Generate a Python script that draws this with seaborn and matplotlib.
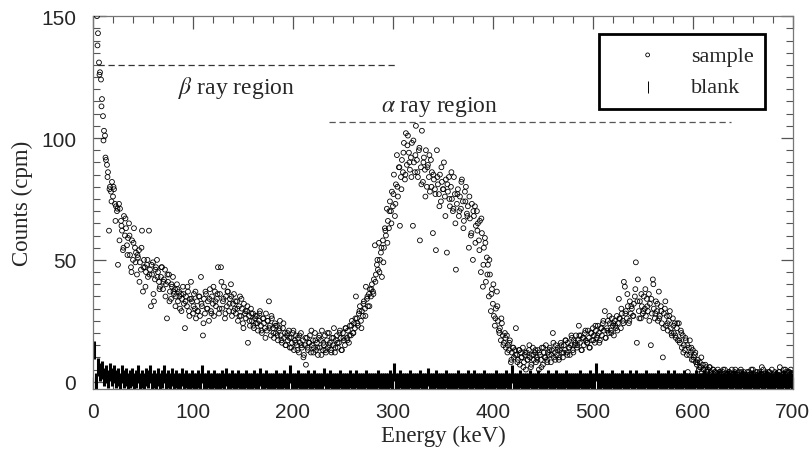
import numpy as np
import matplotlib
matplotlib.use("Agg")
import matplotlib.pyplot as plt
from matplotlib.ticker import MultipleLocator
import seaborn as sns

# counts per minute, one value per keV starting at 4 keV
sample_counts = [
    150, 143, 131, 127, 124, 116, 109, 103, 101, 91,
    89, 86, 62, 80, 78, 82, 76, 79, 73, 72,
    70, 48, 73, 71, 66, 62, 54, 68, 60, 63,
    56, 59, 65, 52, 47, 58, 50, 63, 55, 53,
    44, 51, 54, 49, 46, 62, 37, 50, 47, 45,
    48, 43, 62, 46, 31, 44, 49, 33, 42, 47,
    50, 45, 41, 39, 43, 47, 38, 42, 46, 40,
    26, 41, 44, 37, 34, 39, 43, 36, 38, 35,
    40, 33, 37, 30, 36, 34, 39, 32, 22, 35,
    31, 37, 29, 34, 41, 33, 28, 36, 30, 26,
    33, 29, 35, 27, 43, 31, 19, 34, 28, 36,
    30, 33, 25, 38, 29, 35, 32, 27, 37, 31,
    34, 47, 28, 36, 47, 30, 33, 39, 26, 35,
    31, 37, 29, 34, 40, 27, 32, 36, 30, 28,
    33, 25, 31, 35, 27, 30, 24, 32, 28, 26,
    29, 16, 27, 23, 30, 25, 28, 22, 26, 24,
    27, 21, 25, 29, 23, 20, 26, 24, 22, 28,
    21, 25, 33, 23, 19, 26, 22, 18, 24, 20,
    23, 17, 21, 25, 19, 16, 22, 18, 20, 15,
    19, 17, 21, 14, 18, 16, 20, 13, 17, 19,
    15, 18, 12, 16, 20, 14, 17, 11, 15, 7,
    18, 13, 16, 19, 12, 15, 17, 14, 20, 13,
    16, 11, 18, 14, 17, 21, 13, 15, 19, 12,
    17, 14, 20, 16, 13, 18, 15, 22, 12, 17,
    19, 14, 16, 21, 18, 13, 20, 17, 15, 22,
    18, 21, 16, 23, 19, 25, 20, 24, 22, 35,
    26, 23, 28, 31, 25, 29, 27, 33, 30, 39,
    34, 31, 36, 38, 35, 40, 37, 42, 56, 44,
    48, 46, 57, 50, 53, 43, 58, 55, 63, 60,
    71, 66, 63, 74, 70, 78, 72, 85, 68, 81,
    93, 76, 88, 64, 84, 91, 86, 98, 83, 102,
    89, 101, 94, 87, 92, 98, 64, 90, 86, 105,
    91, 84, 95, 58, 88, 103, 82, 92, 87, 95,
    80, 89, 84, 78, 91, 86, 61, 83, 79, 54,
    95, 81, 77, 85, 74, 82, 79, 90, 76, 83,
    53, 78, 84, 72, 80, 75, 70, 84, 77, 46,
    73, 79, 68, 76, 71, 83, 74, 66, 78, 80,
    69, 72, 55, 67, 60, 73, 50, 68, 72, 64,
    70, 65, 58, 66, 45, 61, 39, 55, 59, 41,
    51, 48, 35, 44, 29, 38, 32, 27, 23, 30,
    37, 25, 21, 22, 17, 24, 19, 16, 20, 14,
    19, 15, 13, 17, 8, 12, 14, 10, 13, 22,
    11, 9, 13, 7, 12, 10, 14, 8, 11, 5,
    12, 9, 13, 10, 6, 11, 14, 9, 12, 8,
    10, 13, 5, 11, 9, 14, 7, 12, 10, 15,
    9, 12, 11, 14, 8, 13, 20, 10, 12, 15,
    11, 14, 9, 13, 16, 12, 10, 15, 13, 17,
    12, 16, 14, 11, 15, 18, 13, 17, 15, 19,
    14, 17, 23, 16, 19, 13, 18, 15, 20, 17,
    16, 21, 18, 14, 20, 17, 22, 19, 16, 21,
    18, 23, 20, 17, 22, 19, 24, 21, 29, 18,
    22, 25, 20, 24, 21, 26, 23, 19, 25, 22,
    27, 24, 34, 26, 22, 28, 25, 41, 39, 29,
    26, 31, 24, 33, 28, 30, 27, 32, 35, 49,
    16, 42, 29, 33, 26, 31, 28, 35, 30, 27,
    34, 29, 36, 32, 15, 28, 42, 30, 26, 33,
    29, 25, 37, 27, 31, 24, 10, 28, 30, 23,
    27, 21, 25, 29, 22, 19, 26, 20, 24, 18,
    22, 17, 24, 16, 21, 14, 19, 15, 13, 17,
    11, 4, 14, 17, 12, 9, 13, 10, 11, 8,
    7, 9, 5, 8, 6, 4, 7, 5, 3, 6,
    4, 5, 3, 6, 4, 2, 5, 3, 4, 2,
    3, 5, 2, 4, 3, 2, 4, 3, 5, 2,
    3, 2, 4, 3, 2, 5, 3, 2, 4, 3,
    2, 3, 4, 2, 5, 3, 2, 4, 3, 2,
    3, 2, 4, 3, 2, 3, 5, 2, 3, 4,
    2, 3, 2, 4, 3, 6, 2, 3, 2, 4,
    3, 2, 4, 2, 3, 5, 2, 3, 4, 2,
    3, 2, 4, 6, 3, 2, 3, 5, 2, 4,
    3, 2, 4, 3, 5, 2, 3,
]
sample_start_kev = 4

# in-between channels, one value every 2 keV starting at 4.5 keV
sample_counts_mid = [
    138, 126, 113, 99, 92, 84, 79, 74, 80, 66,
    71, 58, 64, 55, 67, 52, 60, 45, 57, 49,
    52, 41, 55, 47, 39, 50, 44, 48, 36, 46,
    43, 38, 47, 41, 35, 44, 33, 40, 37, 31,
    38, 35, 29, 36, 33, 39, 27, 34, 31, 37,
    29, 35, 32, 24, 37, 30, 34, 28, 39, 33,
    36, 30, 41, 34, 28, 37, 32, 35, 29, 33,
    30, 27, 34, 22, 29, 31, 25, 28, 23, 27,
    24, 28, 21, 26, 18, 25, 22, 27, 20, 23,
    19, 22, 17, 24, 15, 20, 18, 14, 21, 16,
    13, 19, 15, 10, 18, 14, 16, 21, 12, 17,
    14, 19, 11, 16, 13, 20, 15, 12, 18, 14,
    16, 20, 13, 18, 22, 17, 19, 23, 20, 26,
    24, 29, 22, 32, 27, 35, 31, 38, 36, 41,
    50, 45, 55, 49, 62, 57, 70, 65, 77, 73,
    80, 88, 79, 94, 85, 97, 90, 84, 99, 93,
    86, 96, 81, 90, 76, 88, 93, 80, 85, 77,
    84, 72, 88, 79, 68, 81, 75, 86, 71, 65,
    77, 70, 82, 63, 74, 68, 76, 61, 70, 57,
    62, 54, 67, 48, 57, 44, 50, 36, 40, 26,
    31, 20, 26, 15, 18, 12, 16, 9, 14, 11,
    8, 13, 10, 6, 12, 9, 15, 7, 11, 13,
    9, 12, 6, 14, 10, 8, 13, 11, 16, 9,
    13, 10, 15, 12, 17, 11, 14, 19, 12, 16,
    15, 19, 13, 18, 21, 16, 14, 20, 17, 23,
    19, 16, 22, 25, 18, 21, 27, 20, 24, 23,
    21, 26, 30, 24, 28, 36, 25, 31, 27, 38,
    33, 26, 36, 29, 38, 31, 25, 34, 40, 28,
    32, 26, 29, 22, 33, 24, 27, 20, 23, 19,
    24, 17, 20, 12, 18, 15, 11, 14, 9, 12,
    8, 6, 10, 5, 7, 4, 6, 3, 5, 4,
    2, 4, 3, 5, 2, 3, 4, 2, 3, 5,
    3, 2, 4, 3, 2, 4, 3, 5, 2, 3,
    4, 2, 3, 5, 2, 3, 4, 2, 3, 2,
    3, 4, 2, 3, 5, 2, 4, 3,
]
sample_mid_start_kev = 4.5
sample_mid_step_kev = 2

# blank counts, one value every 2 keV starting at 1 keV
blank_counts = [
    13, 0, 6, 4, 5, 2, 3, 1, 4, 2,
    3, 1, 2, 0, 3, 1, 2, 0, 1, 2,
    0, 1, 3, 0, 1, 0, 2, 1, 3, 0,
    1, 0, 2, 0, 1, 3, 0, 1, 0, 2,
    0, 1, 0, 0, 2, 0, 1, 0, 0, 1,
    0, 0, 1, 0, 3, 0, 0, 1, 0, 0,
    1, 0, 0, 0, 1, 0, 2, 0, 0, 1,
    0, 0, 1, 0, 0, 0, 1, 0, 0, 0,
    1, 0, 0, 2, 0, 0, 1, 0, 0, 0,
    0, 1, 0, 0, 0, 1, 0, 0, 3, 0,
    0, 0, 1, 0, 0, 0, 0, 1, 0, 0,
    1, 0, 0, 0, 0, 2, 0, 0, 1, 0,
    0, 0, 0, 1, 0, 0, 0, 0, 1, 0,
    0, 1, 0, 0, 0, 0, 1, 0, 0, 0,
    0, 0, 1, 0, 0, 0, 0, 0, 1, 0,
    4, 0, 0, 1, 0, 0, 0, 0, 1, 0,
    0, 0, 0, 1, 0, 0, 0, 2, 0, 0,
    0, 1, 0, 0, 0, 0, 1, 0, 0, 0,
    0, 0, 1, 0, 0, 0, 0, 1, 0, 0,
    1, 0, 0, 0, 0, 1, 0, 0, 0, 0,
    0, 1, 0, 0, 0, 0, 1, 0, 0, 3,
    0, 0, 0, 1, 0, 0, 0, 0, 1, 0,
    0, 0, 1, 0, 0, 0, 0, 1, 0, 0,
    0, 1, 0, 0, 0, 0, 1, 0, 0, 0,
    0, 0, 0, 1, 0, 0, 0, 0, 1, 0,
    0, 4, 0, 0, 1, 0, 0, 0, 0, 1,
    0, 0, 0, 0, 1, 0, 0, 0, 1, 0,
    0, 1, 0, 0, 0, 0, 1, 0, 0, 0,
    0, 0, 1, 0, 0, 0, 0, 1, 0, 0,
    1, 0, 0, 0, 0, 1, 0, 0, 0, 0,
    0, 1, 0, 0, 0, 1, 0, 0, 0, 0,
    0, 0, 1, 0, 0, 0, 0, 1, 0, 0,
    1, 0, 0, 0, 1, 0, 0, 0, 0, 1,
    0, 0, 0, 1, 0, 0, 1, 0, 0, 0,
    0, 1, 0, 0, 0, 1, 0, 0, 1, 0,
]
blank_start_kev = 1
blank_step_kev = 2

# energy windows (keV) and their label heights (cpm)
beta_window = (5, 303)
beta_level = 130
alpha_window = (236, 638)
alpha_level = 106.5

sample_energy = np.concatenate([
    np.arange(len(sample_counts)) + sample_start_kev,
    np.arange(len(sample_counts_mid)) * sample_mid_step_kev + sample_mid_start_kev,
])
sample_all = np.concatenate([sample_counts, sample_counts_mid])
blank_energy = np.arange(len(blank_counts)) * blank_step_kev + blank_start_kev

sns.set_style("ticks")
plt.rcParams['font.family'] = ['Liberation Serif', 'DejaVu Serif']
plt.rcParams['mathtext.fontset'] = 'stix'

fig = plt.figure(figsize=(8.1, 4.52), dpi=100)
ax = fig.add_axes([0.1148, 0.137, 0.864, 0.825])

sns.scatterplot(x=blank_energy, y=blank_counts, marker='|', s=150,
                color='black', linewidth=2.2, label='blank', ax=ax, zorder=2)
sns.scatterplot(x=sample_energy, y=sample_all, marker='o', s=12,
                facecolors='none', edgecolor='black', linewidth=0.6,
                label='sample', ax=ax, zorder=3)

ax.set_xlim(0, 700)
ax.set_ylim(-3, 150)

# energy windows
ax.hlines(beta_level, *beta_window, colors='#333333', linestyles=(0, (5, 3)), linewidth=0.9)
ax.hlines(alpha_level, *alpha_window, colors='#555555', linestyles=(0, (5, 3)), linewidth=0.9)
ax.text(85, 121, r'$\beta$ ray region', fontsize=17, va='center', ha='left')
ax.text(288, 113, r'$\alpha$ ray region', fontsize=17, va='center', ha='left')

# ticks
ax.xaxis.set_major_locator(MultipleLocator(100))
ax.xaxis.set_minor_locator(MultipleLocator(20))
ax.yaxis.set_major_locator(MultipleLocator(50))
ax.yaxis.set_minor_locator(MultipleLocator(5))
ax.tick_params(which='both', direction='in', top=True, right=True, color='#555555')
ax.tick_params(which='major', length=9, width=0.9)
ax.tick_params(which='minor', length=5, width=0.8)
ax.tick_params(axis='x', labelsize=15, pad=9)
ax.tick_params(axis='y', labelsize=15, pad=12)
for lab in ax.get_xticklabels() + ax.get_yticklabels():
    lab.set_family(['Liberation Sans Narrow', 'Liberation Sans', 'DejaVu Sans'])
for sp in ax.spines.values():
    sp.set_color('#777777')
    sp.set_linewidth(0.9)

ax.set_xlabel('Energy (keV)', fontsize=16.5, labelpad=3)
ax.set_ylabel('Counts (cpm)', fontsize=16.5, labelpad=6)

handles, labels = ax.get_legend_handles_labels()
order = [labels.index('sample'), labels.index('blank')]
leg = ax.legend([handles[i] for i in order], [labels[i] for i in order],
                loc='upper right', bbox_to_anchor=(0.96, 0.952), fontsize=16,
                frameon=True, fancybox=False, borderpad=0.5, handletextpad=0.25,
                handlelength=3.4, labelspacing=0.5, markerscale=0.8,
                borderaxespad=0)
leg.get_frame().set_edgecolor('black')
leg.get_frame().set_linewidth(2)
leg.get_frame().set_facecolor('white')
leg.get_frame().set_alpha(1)
leg.legend_handles[1].set_linewidth(0.7)
leg.legend_handles[1].set_sizes([80])

fig.savefig('out.png', dpi=100)
